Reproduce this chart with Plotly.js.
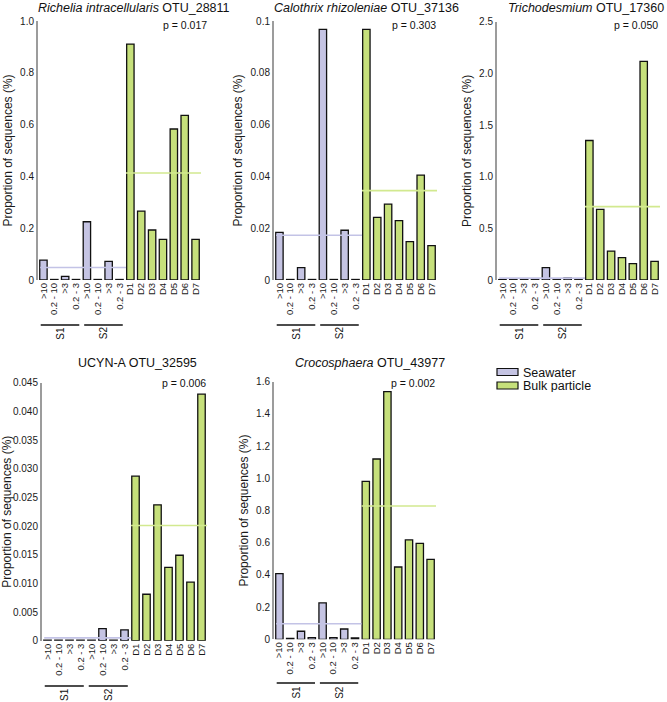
<!DOCTYPE html>
<html>
<head>
<meta charset="utf-8">
<script src="https://cdn.plot.ly/plotly-3.0.1.min.js"></script>
<style>html,body{margin:0;padding:0;background:#fff;}#chart{width:667px;height:702px;}</style>
</head>
<body>
<div id="chart"></div>
<script>
// ---- data ----
const seawaterLabels = [">10", "0.2 - 10", ">3", "0.2 - 3", ">10", "0.2 - 10", ">3", "0.2 - 3"];
const bulkLabels = ["D1", "D2", "D3", "D4", "D5", "D6", "D7"];
const groupLabels = ["S1", "S2"];
const legendNames = ["Seawater", "Bulk particle"];

const panelTitles = [
  "<i>Richelia intracellularis</i> OTU_28811",
  "<i>Calothrix rhizoleniae</i> OTU_37136",
  "<i>Trichodesmium</i> OTU_17360",
  "UCYN-A OTU_32595",
  "<i>Crocosphaera</i> OTU_43977"
];
const pValues = ["p = 0.017", "p = 0.303", "p = 0.050", "p = 0.006", "p = 0.002"];

const richeliaSea  = [0.077, 0.002, 0.014, 0.002, 0.225, 0.002, 0.072, 0.002];
const richeliaBulk = [0.911, 0.266, 0.193, 0.157, 0.583, 0.636, 0.157];
const calothrixSea  = [0.0184, 0.0002, 0.0048, 0.0002, 0.0968, 0.0002, 0.0192, 0.0002];
const calothrixBulk = [0.0968, 0.0242, 0.0293, 0.0229, 0.0148, 0.0405, 0.0133];
const trichoSea  = [0.004, 0.003, 0.003, 0.003, 0.12, 0.003, 0.02, 0.003];
const trichoBulk = [1.35, 0.684, 0.28, 0.216, 0.158, 2.116, 0.18];
const ucynSea  = [0.0001, 0.0001, 0.0001, 0.0001, 0.0001, 0.0021, 0.0001, 0.0019];
const ucynBulk = [0.0287, 0.0081, 0.0237, 0.0128, 0.0149, 0.0102, 0.0430];
const crocoSea  = [0.408, 0.005, 0.05, 0.01, 0.226, 0.01, 0.064, 0.008];
const crocoBulk = [0.981, 1.12, 1.538, 0.449, 0.617, 0.596, 0.497];

const seaMeans  = [0.048, 0.0173, 0.018, 0.0005, 0.097];
const bulkMeans = [0.413, 0.0345, 0.71, 0.0201, 0.828];

const yTickVals = [
  [0, 0.2, 0.4, 0.6, 0.8, 1.0],
  [0, 0.02, 0.04, 0.06, 0.08, 0.1],
  [0, 0.5, 1.0, 1.5, 2.0, 2.5],
  [0, 0.005, 0.010, 0.015, 0.020, 0.025, 0.030, 0.035, 0.040, 0.045],
  [0, 0.2, 0.4, 0.6, 0.8, 1.0, 1.2, 1.4, 1.6]
];
const yTickText = [
  ["0", "0.2", "0.4", "0.6", "0.8", "1.0"],
  ["0", "0.02", "0.04", "0.06", "0.08", "0.1"],
  ["0", "0.5", "1.0", "1.5", "2.0", "2.5"],
  ["0", "0.005", "0.010", "0.015", "0.020", "0.025", "0.030", "0.035", "0.040", "0.045"],
  ["0", "0.2", "0.4", "0.6", "0.8", "1.0", "1.2", "1.4", "1.6"]
];
const yMax = [1.0, 0.1, 2.5, 0.045, 1.6];

// ---- layout geometry (pixels of the 667x702 page) ----
const W = 667, H = 702;
const panels = [
  {x0: 38,  x1: 201, yTop: 21,    yZero: 280,   titleX: 134, titleAnchor: "center", titleY: 8,   pX: 209, pY: 25,  lineY: 325, grpY: 333},
  {x0: 274, x1: 437, yTop: 21,    yZero: 280,   titleX: 366, titleAnchor: "center", titleY: 8,   pX: 438, pY: 25,  lineY: 325, grpY: 333},
  {x0: 497, x1: 660, yTop: 21.7,  yZero: 280,   titleX: 666, titleAnchor: "right",  titleY: 8,   pX: 660, pY: 25,  lineY: 325, grpY: 333},
  {x0: 42,  x1: 207, yTop: 382.7, yZero: 640.7, titleX: 137, titleAnchor: "center", titleY: 363, pX: 208, pY: 383, lineY: 686, grpY: 695},
  {x0: 274, x1: 436, yTop: 381.7, yZero: 639.3, titleX: 370, titleAnchor: "center", titleY: 363, pX: 437, pY: 383, lineY: 683, grpY: 692}
];

const seaColor = "#c5c4e3";
const bulkColor = "#c6e07b";
const seaLine = "#c3c3e6";
const bulkLine = "#d2e98f";

const seaSeries = [richeliaSea, calothrixSea, trichoSea, ucynSea, crocoSea];
const bulkSeries = [richeliaBulk, calothrixBulk, trichoBulk, ucynBulk, crocoBulk];

const allLabels = seawaterLabels.concat(bulkLabels);
const seaX = seawaterLabels.map((_, i) => i);
const bulkX = bulkLabels.map((_, i) => i + seawaterLabels.length);
const allX = allLabels.map((_, i) => i);

const px = v => v / W;
const py = v => 1 - v / H;

const traces = [];
const layout = {
  width: W, height: H,
  margin: {l: 0, r: 0, t: 0, b: 0},
  paper_bgcolor: "#fff", plot_bgcolor: "#fff",
  font: {family: "Liberation Sans, Arial, sans-serif", color: "#1a1a1a"},
  bargap: 0.32,
  showlegend: false,
  annotations: [],
  shapes: []
};

panels.forEach((p, k) => {
  const xa = "x" + (k === 0 ? "" : k + 1);
  const ya = "y" + (k === 0 ? "" : k + 1);
  const xk = "xaxis" + (k === 0 ? "" : k + 1);
  const yk = "yaxis" + (k === 0 ? "" : k + 1);

  traces.push({
    type: "bar", x: seaX, y: seaSeries[k], xaxis: xa, yaxis: ya,
    name: legendNames[0],
    marker: {color: seaColor, line: {color: "#111", width: 1.3}},
    hoverinfo: "y"
  });
  traces.push({
    type: "bar", x: bulkX, y: bulkSeries[k], xaxis: xa, yaxis: ya,
    name: legendNames[1],
    marker: {color: bulkColor, line: {color: "#111", width: 1.3}},
    hoverinfo: "y"
  });
  traces.push({
    type: "scatter", mode: "lines", xaxis: xa, yaxis: ya,
    x: [-0.3, seawaterLabels.length - 0.4], y: [seaMeans[k], seaMeans[k]],
    line: {color: seaLine, width: 1.6}, hoverinfo: "skip"
  });
  traces.push({
    type: "scatter", mode: "lines", xaxis: xa, yaxis: ya,
    x: [seawaterLabels.length - 0.4, allLabels.length - 0.5], y: [bulkMeans[k], bulkMeans[k]],
    line: {color: bulkLine, width: 1.6}, hoverinfo: "skip"
  });

  layout[xk] = {
    domain: [px(p.x0), px(p.x1)], anchor: ya,
    range: [-0.5, allLabels.length - 0.5],
    tickmode: "array", tickvals: allX, ticktext: allLabels,
    tickangle: -90, tickfont: {size: 9.5, color: "#1a1a1a"},
    showline: false, showgrid: false, zeroline: false, ticks: "", fixedrange: true
  };
  layout[yk] = {
    domain: [py(p.yZero), py(p.yTop)], anchor: xa,
    range: [0, yMax[k]],
    tickmode: "array", tickvals: yTickVals[k], ticktext: yTickText[k],
    tickfont: {size: 10, color: "#1a1a1a"},
    showline: true, linecolor: "#9c9c9c", linewidth: 2,
    showgrid: false, zeroline: false, ticks: "", ticklen: 0,
    title: {text: "Proportion of sequences (%)", font: {size: 12, color: "#1a1a1a"}, standoff: 5},
    fixedrange: true
  };

  layout.annotations.push({
    xref: "paper", yref: "paper", x: px(p.titleX), y: py(p.titleY),
    text: panelTitles[k], showarrow: false, xanchor: p.titleAnchor, yanchor: "middle",
    font: {size: 12.5, color: "#111"}
  });
  layout.annotations.push({
    xref: "paper", yref: "paper", x: px(p.pX), y: py(p.pY),
    text: pValues[k], showarrow: false, xanchor: "right", yanchor: "middle",
    font: {size: 10.5, color: "#111"}
  });

  groupLabels.forEach((g, gi) => {
    const start = gi * 4, end = start + 3;
    layout.shapes.push({
      type: "line", xref: xa, yref: "paper",
      x0: start - 0.25, x1: end + 0.3, y0: py(p.lineY), y1: py(p.lineY),
      line: {color: "#111", width: 1.3}
    });
    layout.annotations.push({
      xref: xa, yref: "paper", x: (start + end) / 2, y: py(p.grpY),
      text: g, showarrow: false, textangle: -90, xanchor: "center", yanchor: "middle",
      font: {size: 10, color: "#111"}
    });
  });
});

// ---- legend (drawn as swatches + labels) ----
const legendColors = [seaColor, bulkColor];
const legendRows = [372, 385.5];
legendNames.forEach((name, i) => {
  layout.shapes.push({
    type: "rect", xref: "paper", yref: "paper",
    x0: px(497), x1: px(518), y0: py(legendRows[i] + 3.5), y1: py(legendRows[i] - 3.5),
    fillcolor: legendColors[i], line: {color: "#111", width: 1.2}
  });
  layout.annotations.push({
    xref: "paper", yref: "paper", x: px(522), y: py(legendRows[i]),
    text: name, showarrow: false, xanchor: "left", yanchor: "middle",
    height: 13, borderpad: 0,
    font: {size: 12.5, color: "#111"}
  });
});

Plotly.newPlot("chart", traces, layout, {displayModeBar: false, staticPlot: true});
</script>
</body>
</html>
